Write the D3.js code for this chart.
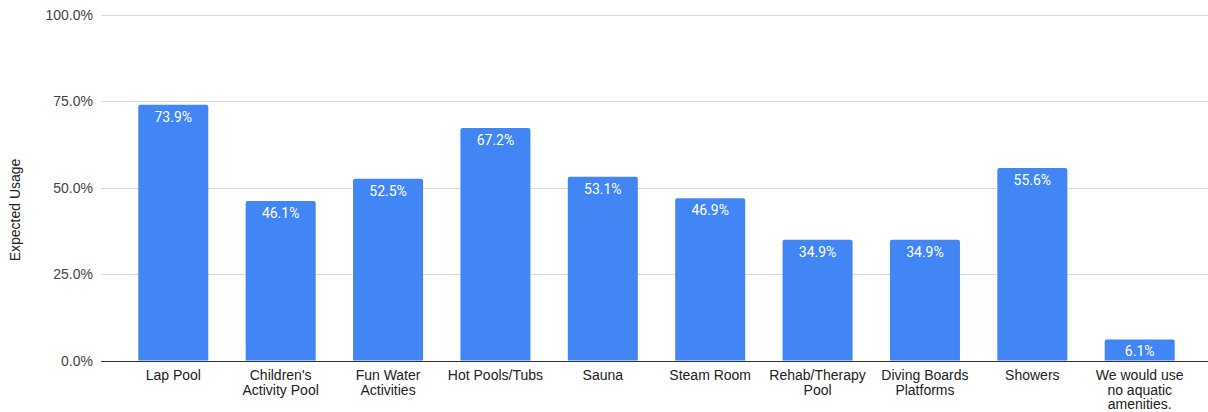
<!DOCTYPE html>
<html>
<head>
<meta charset="utf-8">
<script src="https://cdn.jsdelivr.net/npm/d3@7"></script>
<style>
  html, body { margin: 0; padding: 0; background: #fff; }
  svg { display: block; }
</style>
</head>
<body>
<svg id="chart" width="1208" height="412"></svg>
<script>
const categories = [
  ["Lap Pool"],
  ["Children's", "Activity Pool"],
  ["Fun Water", "Activities"],
  ["Hot Pools/Tubs"],
  ["Sauna"],
  ["Steam Room"],
  ["Rehab/Therapy", "Pool"],
  ["Diving Boards", "Platforms"],
  ["Showers"],
  ["We would use", "no aquatic", "amenities."]
];
const usage = [73.9, 46.1, 52.5, 67.2, 53.1, 46.9, 34.9, 34.9, 55.6, 6.1];
const yTicks = [0, 25, 50, 75, 100];
const yTitle = "Expected Usage";

const svg = d3.select("#chart");
const gridLeft = 101, gridRight = 1208;
const plotTop = 14.5, plotBottom = 360.5;
const font = "Arial, 'Liberation Sans', sans-serif";

const data = categories.map((c, i) => ({ key: c.join(" "), lines: c, value: usage[i] }));

const x = d3.scaleBand()
    .domain(data.map(d => d.key))
    .range([119.6, 1193.4])
    .paddingInner(0.348)
    .paddingOuter(0.174);

const y = d3.scaleLinear().domain([0, 100]).range([plotBottom, plotTop]);

// grid lines
svg.append("g")
  .selectAll("line")
  .data(yTicks.filter(t => t > 0))
  .enter().append("line")
    .attr("x1", gridLeft).attr("x2", gridRight)
    .attr("y1", d => Math.round(y(d)) + 0.5).attr("y2", d => Math.round(y(d)) + 0.5)
    .attr("stroke", "#d9d9d9").attr("stroke-width", 1);

// y tick labels
svg.append("g")
  .selectAll("text")
  .data(yTicks)
  .enter().append("text")
    .attr("x", 93)
    .attr("y", d => y(d) + 5)
    .attr("text-anchor", "end")
    .attr("font-family", font)
    .attr("font-size", 14)
    .attr("fill", "#444")
    .text(d => d.toFixed(1) + "%");

// y title
svg.append("text")
  .attr("transform", "translate(20,210) rotate(-90)")
  .attr("text-anchor", "middle")
  .attr("font-family", font)
  .attr("font-size", 14)
  .attr("fill", "#222")
  .text(yTitle);

// bars with slightly rounded top corners
const r = 2;
svg.append("g")
  .selectAll("path")
  .data(data)
  .enter().append("path")
    .attr("fill", "#4285F4")
    .attr("d", d => {
      const x0 = x(d.key), w = x.bandwidth(), y0 = y(d.value), y1 = y(0);
      return `M${x0},${y1}V${y0 + r}Q${x0},${y0} ${x0 + r},${y0}H${x0 + w - r}Q${x0 + w},${y0} ${x0 + w},${y0 + r}V${y1}Z`;
    });

// value labels
svg.append("g")
  .selectAll("text")
  .data(data)
  .enter().append("text")
    .attr("x", d => x(d.key) + x.bandwidth() / 2)
    .attr("y", d => y(d.value) + 17)
    .attr("text-anchor", "middle")
    .attr("font-family", "Roboto, Arial, sans-serif")
    .attr("font-size", 14)
    .attr("fill", "#fff")
    .text(d => d.value.toFixed(1) + "%");

// baseline
svg.append("line")
  .attr("x1", gridLeft).attr("x2", gridRight)
  .attr("y1", Math.round(y(0)) + 0.5).attr("y2", Math.round(y(0)) + 0.5)
  .attr("stroke", "#333").attr("stroke-width", 1);

// x labels
const xl = svg.append("g")
  .selectAll("text")
  .data(data)
  .enter().append("text")
    .attr("x", d => x(d.key) + x.bandwidth() / 2)
    .attr("y", 380)
    .attr("text-anchor", "middle")
    .attr("font-family", font)
    .attr("font-size", 14)
    .attr("fill", "#222");

xl.selectAll("tspan")
  .data(d => d.lines.map(l => ({ l, x: x(d.key) + x.bandwidth() / 2 })))
  .enter().append("tspan")
    .attr("x", d => d.x)
    .attr("dy", (d, i) => i === 0 ? 0 : 14.5)
    .text(d => d.l);
</script>
</body>
</html>
